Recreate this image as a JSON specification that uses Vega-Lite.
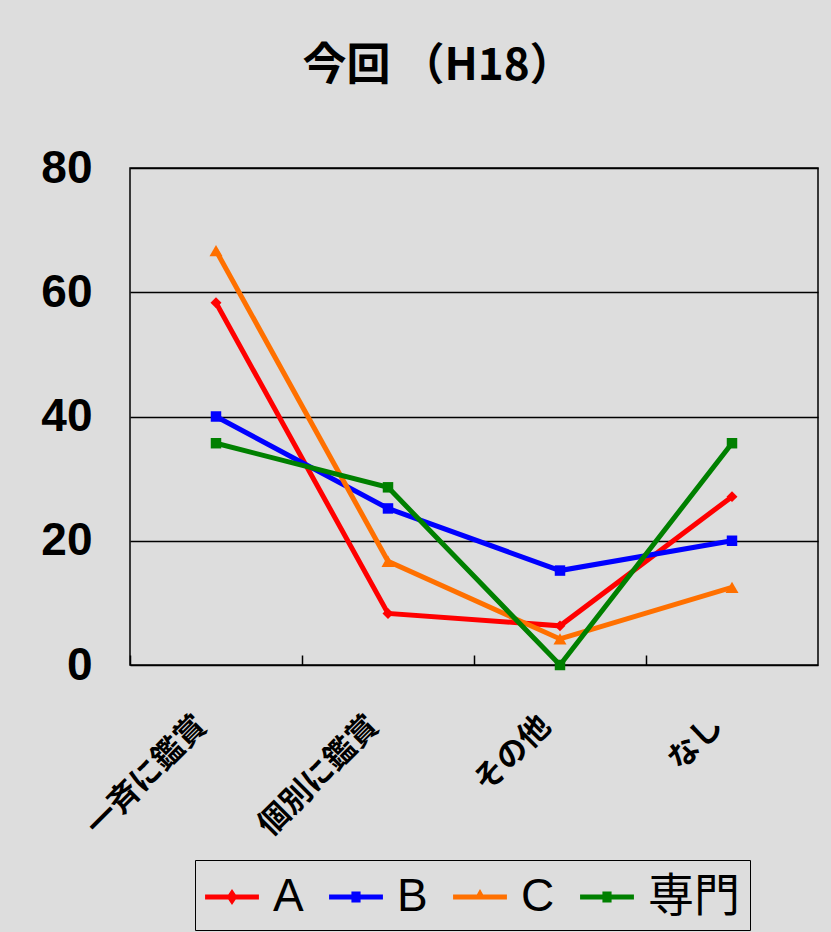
{
  "$schema": "https://vega.github.io/schema/vega-lite/v6.json",
  "width": 688,
  "height": 497,
  "autosize": "none",
  "padding": {"left": 130, "top": 168, "right": 13, "bottom": 267},
  "background": "#DDDDDD",
  "title": {
    "text": "今回 （H18）",
    "font": "Noto Sans CJK JP",
    "fontSize": 44,
    "fontWeight": "bold",
    "color": "black",
    "anchor": "middle",
    "dx": -36,
    "offset": 56
  },
  "data": {
    "values": [
      {"cat": "一斉に鑑賞", "series": "A", "value": 58.3},
      {"cat": "個別に鑑賞", "series": "A", "value": 8.3},
      {"cat": "その他", "series": "A", "value": 6.3},
      {"cat": "なし", "series": "A", "value": 27.1},
      {"cat": "一斉に鑑賞", "series": "B", "value": 40.0},
      {"cat": "個別に鑑賞", "series": "B", "value": 25.2},
      {"cat": "その他", "series": "B", "value": 15.2},
      {"cat": "なし", "series": "B", "value": 20.0},
      {"cat": "一斉に鑑賞", "series": "C", "value": 66.7},
      {"cat": "個別に鑑賞", "series": "C", "value": 16.7},
      {"cat": "その他", "series": "C", "value": 4.2},
      {"cat": "なし", "series": "C", "value": 12.5},
      {"cat": "一斉に鑑賞", "series": "専門", "value": 35.7},
      {"cat": "個別に鑑賞", "series": "専門", "value": 28.6},
      {"cat": "その他", "series": "専門", "value": 0},
      {"cat": "なし", "series": "専門", "value": 35.7}
    ]
  },
  "config": {
    "view": {"stroke": "black", "strokeWidth": 1.5, "fill": "#DDDDDD"}
  },
  "encoding": {
    "x": {
      "field": "cat", "type": "nominal", "sort": null,
      "scale": {"type": "band", "paddingInner": 0, "paddingOuter": 0}
    },
    "y": {
      "field": "value", "type": "quantitative",
      "scale": {"domain": [0, 80], "nice": false},
      "axis": {
        "title": null, "values": [0, 20, 40, 60, 80],
        "labelFont": "Liberation Sans", "labelFontSize": 46, "labelFontWeight": "bold",
        "labelColor": "black", "labelPadding": 38, "ticks": false, "domain": false,
        "grid": true, "gridColor": "black", "gridWidth": 1.5, "gridOpacity": 1
      }
    },
    "color": {
      "field": "series", "type": "nominal", "sort": ["A", "B", "C", "専門"],
      "scale": {"domain": ["A", "B", "C", "専門"], "range": ["#FF0000", "#0000FF", "#FF7000", "#008000"]},
      "legend": null
    }
  },
  "layer": [
    {
      "mark": {"type": "line", "strokeWidth": 5},
      "encoding": {
        "x": {
          "field": "cat", "type": "nominal", "sort": null,
          "axis": {
            "title": null, "orient": "bottom", "labelAngle": -45, "labelAlign": "right", "labelBaseline": "middle",
            "labelFont": "Noto Sans CJK JP", "labelFontSize": 31, "labelFontWeight": "bold",
            "labelColor": "black", "labelPadding": 56, "labelOffset": -14, "ticks": false, "domain": false, "grid": false
          }
        },
        "color": {
          "field": "series", "type": "nominal",
          "legend": {
            "title": null, "orient": "none", "legendX": 65, "legendY": 692, "direction": "horizontal",
            "strokeColor": "black", "fillColor": "#DDDDDD", "padding": 10,
            "labelFont": "Liberation Sans, Noto Sans CJK JP", "labelFontSize": 46, "labelColor": "black", "labelOffset": 14,
            "columnPadding": 25, "symbolSize": 2900, "symbolStrokeWidth": 0,
            "encode": {
              "symbols": {
                "update": {
                  "fill": {"signal": "scale('color', datum.value)"},
                  "shape": {"signal": "datum.value === 'A' ? 'M-1,-0.09H1V0.09H-1Z M0,-0.3L0.2,0L0,0.3L-0.2,0Z' : datum.value === 'B' ? 'M-1,-0.09H1V0.09H-1Z M-0.17,-0.2H0.17V0.2H-0.17Z' : datum.value === 'C' ? 'M-1,-0.09H1V0.09H-1Z M0,-0.3L0.22,0.09H-0.22Z' : 'M-1,-0.09H1V0.09H-1Z M-0.17,-0.2H0.17V0.2H-0.17Z'"}
                }
              }
            }
          }
        }
      }
    },
    {
      "transform": [{"filter": "datum.series === 'A'"}],
      "mark": {"type": "point", "filled": true, "opacity": 1, "shape": "diamond", "size": 120},
      "encoding": {
        "x": {
          "field": "cat", "type": "nominal", "sort": null,
          "axis": {
            "title": null, "orient": "bottom", "labels": false, "ticks": true, "bandPosition": 0, "tickSize": -10,
            "tickColor": "black", "tickWidth": 1.5, "domain": false, "grid": false
          }
        }
      }
    },
    {
      "transform": [{"filter": "datum.series === 'B' || datum.series === '専門'"}],
      "mark": {"type": "point", "filled": true, "opacity": 1, "shape": "square", "size": 110},
      "encoding": {
        "x": {"field": "cat", "type": "nominal", "sort": null, "axis": null}
      }
    },
    {
      "transform": [{"filter": "datum.series === 'C'"}],
      "mark": {"type": "point", "filled": true, "opacity": 1, "shape": "triangle-up", "size": 170},
      "encoding": {
        "x": {"field": "cat", "type": "nominal", "sort": null, "axis": null}
      }
    }
  ],
  "resolve": {"axis": {"x": "independent"}}
}
